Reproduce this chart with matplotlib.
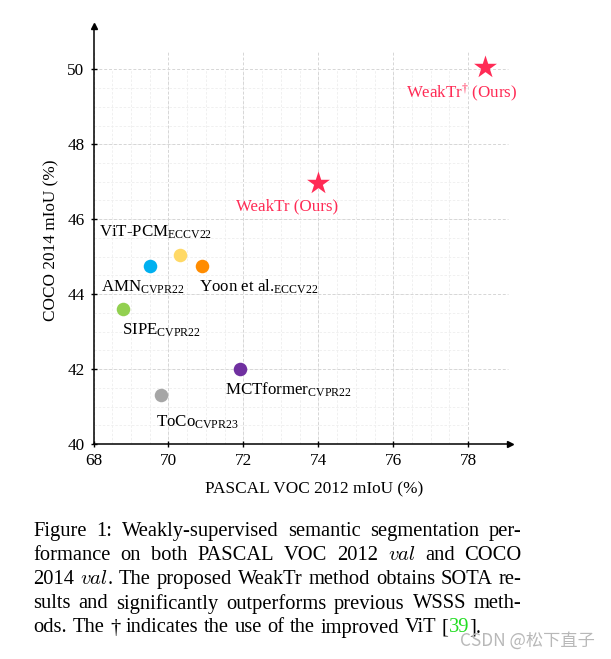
import numpy as np
import matplotlib
matplotlib.use("Agg")
import matplotlib.pyplot as plt

plt.rcParams['font.family'] = ['Liberation Serif', 'DejaVu Serif']
plt.rcParams['mathtext.fontset'] = 'custom'
plt.rcParams['mathtext.rm'] = 'Liberation Serif'
plt.rcParams['mathtext.it'] = 'Liberation Serif:italic'

# ----- Datos -----
metodos = [r"ViT-PCM$_{\mathrm{ECCV22}}$", r"AMN$_{\mathrm{CVPR22}}$",
           r"Yoon et al.$_{\mathrm{ECCV22}}$", r"SIPE$_{\mathrm{CVPR22}}$",
           r"MCTformer$_{\mathrm{CVPR22}}$", r"ToCo$_{\mathrm{CVPR23}}$"]
voc = [70.3, 69.5, 70.9, 68.8, 71.9, 69.8]
coco = [45.05, 44.75, 44.75, 43.6, 42.0, 41.3]
colores = ["#FFD966", "#00B0F0", "#FF8C00", "#92D050", "#7030A0", "#A6A6A6"]

nuestros = ["WeakTr (Ours)", r"WeakTr$^{\dagger}$ (Ours)"]
voc_nuestros = [74.0, 78.45]
coco_nuestros = [46.97, 50.05]
rojo = "#FF2B55"

x_ticks = [68, 70, 72, 74, 76, 78]
y_ticks = [40, 42, 44, 46, 48, 50]

# desplazamiento de etiquetas (pixeles)
off_metodos = [(-81, 18), (-49, -26), (-3, -26), (-1, -25), (-15, -26), (-5, -31)]
off_nuestros = [(-82, -28), (-79, -30)]

W, H = 611, 659
fig = plt.figure(figsize=(W / 100, H / 100), dpi=100)
ax = fig.add_axes([93.5 / W, 1 - 444 / H, (510 - 93.5) / W, (444 - 26) / H])
ax.set_xlim(68, 68 + (510 - 93.5) / 37.47)
ax.set_ylim(40, 40 + (444 - 26) / 37.47)

# ----- Grilla -----
for xv in np.arange(68.5, 78, 0.5):
    ax.plot([xv, xv], [40, 50], color="#EEEEEE", lw=0.6, ls=(0, (3, 2)), zorder=0)
for yv in np.arange(40.5, 50, 0.5):
    ax.plot([68, 78], [yv, yv], color="#EEEEEE", lw=0.6, ls=(0, (3, 2)), zorder=0)
for xv in x_ticks:
    ax.plot([xv, xv], [40, 50.5], color="#D6D6D6", lw=0.7, ls=(0, (3, 2)), zorder=0)
for yv in y_ticks:
    ax.plot([68, 79.05], [yv, yv], color="#D6D6D6", lw=0.7, ls=(0, (3, 2)), zorder=0)

# ----- Puntos -----
for m, x, y, c, (dx, dy) in zip(metodos, voc, coco, colores, off_metodos):
    ax.scatter(x, y, s=95, color=c, zorder=3, linewidths=0)
    ax.annotate(m, (x, y), xytext=(dx, dy), textcoords="offset pixels",
                ha="left", va="baseline", fontsize=12.2)

for m, x, y, (dx, dy) in zip(nuestros, voc_nuestros, coco_nuestros, off_nuestros):
    ax.scatter(x, y, s=300, marker="*", color=rojo, zorder=3, linewidths=0)
    ax.annotate(m, (x, y), xytext=(dx, dy), textcoords="offset pixels",
                ha="left", va="baseline", fontsize=12.2, color=rojo)

# ----- Ejes -----
for s in ["top", "right"]:
    ax.spines[s].set_visible(False)
for s in ["left", "bottom"]:
    ax.spines[s].set_linewidth(1.1)
ax.plot(1, 0, ">k", transform=ax.transAxes, clip_on=False, markersize=4)
ax.plot(0, 1, "^k", transform=ax.transAxes, clip_on=False, markersize=4)
ax.set_xticks(x_ticks)
ax.set_yticks(y_ticks)
ax.tick_params(direction="inout", length=5, width=1, labelsize=12.4, pad=4)
ax.text(0.529, -0.108, "PASCAL VOC 2012 mIoU (%)", transform=ax.transAxes,
        ha="center", va="center", fontsize=12.4)
ax.text(-0.10, 0.488, "COCO 2014 mIoU (%)", transform=ax.transAxes,
        ha="center", va="center", rotation=90, fontsize=12.4)

# ----- Pie de figura (justificado) -----
N = {}
V = {"family": "cmmi10"}
G = {"color": "#22DD22"}
lineas = [
    [[("Figure", N)], [("1:", N)], [("Weakly-supervised", N)], [("semantic", N)],
     [("segmentation", N)], [("per-", N)]],
    [[("formance", N)], [("on", N)], [("both", N)], [("PASCAL", N)], [("VOC", N)],
     [("2012", N)], [("val", V)], [("and", N)], [("COCO", N)]],
    [[("2014", N)], [("val", V), (".", N)], [("The", N)], [("proposed", N)],
     [("WeakTr", N)], [("method", N)], [("obtains", N)], [("SOTA", N)], [("re-", N)]],
    [[("sults", N)], [("and", N)], [("significantly", N)], [("outperforms", N)],
     [("previous", N)], [("WSSS", N)], [("meth-", N)]],
    [[("ods.", N)], [("The", N)], [("†", N)], [("indicates", N)], [("the", N)],
     [("use", N)], [("of", N)], [("the", N)], [("improved", N)], [("ViT", N)],
     [("[", N), ("39", G), ("].", N)]],
]
bases = [535.7, 560.0, 584.3, 608.5, 632.5]
izq, der = 33.3, 521.7
fs = 14.8

r = fig.canvas.get_renderer()
for i, (palabras, yb) in enumerate(zip(lineas, bases)):
    objs = []
    anchos = []
    for w in palabras:
        partes = []
        total = 0
        for s, kw in w:
            t = fig.text(0, 1 - yb / H, s, fontsize=fs, va="baseline", ha="left", **kw)
            wd = t.get_window_extent(r).width
            partes.append((t, wd))
            total += wd
        objs.append(partes)
        anchos.append(total)
    if i < len(lineas) - 1:
        esp = (der - izq - sum(anchos)) / (len(palabras) - 1)
    else:
        esp = 0.27 * fs * 100 / 72
    x = izq
    for partes, a in zip(objs, anchos):
        xx = x
        for t, wd in partes:
            t.set_x(xx / W)
            xx += wd
        x += a + esp

fig.text(460 / W, 1 - 645.7 / H, "CSDN @松下直子", fontsize=12.4, color="#B8B8B8",
         family=["Noto Sans CJK SC", "DejaVu Sans"], va="baseline", ha="left")

fig.savefig("out.png", dpi=100)
